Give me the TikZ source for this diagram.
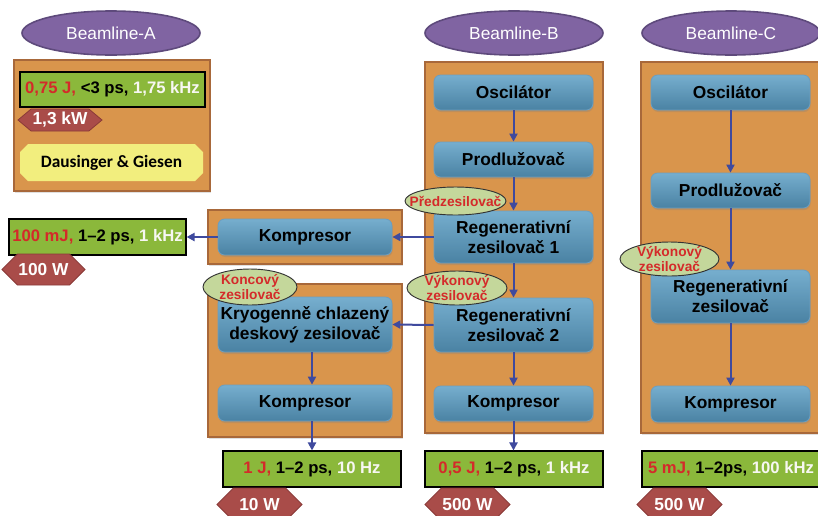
\documentclass[tikz,border=0pt]{standalone}
\usepackage{fontspec}
\setmainfont{Liberation Sans}
\newfontfamily\calibri{Carlito}
\usetikzlibrary{shapes.geometric,shapes.symbols,arrows.meta,shadows}
\definecolor{orfill}{HTML}{D9954C}
\definecolor{ordraw}{HTML}{A8683A}
\definecolor{bltop}{HTML}{76AECE}
\definecolor{blbot}{HTML}{4A82A3}
\definecolor{bldraw}{HTML}{6C9EC0}
\definecolor{grfill}{HTML}{8BB83B}
\definecolor{hexfill}{HTML}{A94C49}
\definecolor{hexdraw}{HTML}{8A3A38}
\definecolor{purfill}{HTML}{8064A2}
\definecolor{purdraw}{HTML}{5E4A7C}
\definecolor{lgfill}{HTML}{C4D79B}
\definecolor{redtxt}{HTML}{D42A2A}
\definecolor{whtxt}{HTML}{F7F7F2}
\definecolor{yelfill}{HTML}{F2EE7E}
\definecolor{arrcol}{HTML}{3F4A9E}
% #1 style, #2 name, #3 x1, #4 y1, #5 x2, #6 y2 (px), #7 text
\newcommand\mkbox[7]{%
  \pgfmathsetmacro\mkcx{(#3+#5)/2}%
  \pgfmathsetmacro\mkcy{(#4+#6)/2}%
  \pgfmathsetmacro\mkww{(#5-#3)*0.75}%
  \pgfmathsetmacro\mkhh{(#6-#4)*0.75}%
  \node[#1, minimum width=\mkww pt, minimum height=\mkhh pt] (#2) at (\mkcx,\mkcy) {#7};%
}
\begin{document}
\begin{tikzpicture}[x=0.75pt,y=-0.75pt,
  container/.style={draw=ordraw, fill=orfill, line width=1.5pt, inner sep=0pt,
    drop shadow={shadow xshift=1pt, shadow yshift=-1.5pt, opacity=0.25}},
  bluebox/.style={draw=bldraw, top color=bltop, bottom color=blbot, rounded corners=5pt, inner sep=0pt, font=\fontsize{13}{15}\selectfont\bfseries, align=center, line width=0.6pt,
    drop shadow={shadow xshift=0.5pt, shadow yshift=-1.5pt, opacity=0.3}},
  greenbox/.style={draw=black, fill=grfill, line width=0.8pt, inner sep=0pt, font=\fontsize{12.5}{15}\selectfont\bfseries},
  hexbox/.style={signal, signal to=west and east, signal pointer angle=90, draw=hexdraw, fill=hexfill, line width=0.6pt, inner sep=0pt, text=white, font=\fontsize{13}{15}\selectfont\bfseries},
  beamline/.style={ellipse, draw=purdraw, fill=purfill, line width=1.2pt, inner sep=0pt, text=white, font=\fontsize{13}{15}\selectfont},
  tag/.style={ellipse, draw=black!80, fill=lgfill, line width=0.7pt, inner sep=0pt},
  tagtext/.style={text=redtxt, align=center, inner sep=0pt, font=\fontsize{10.3}{11}\selectfont\bfseries},
  flow/.style={draw=arrcol, line width=1.5pt, -{Triangle[width=6pt,length=6pt]}}]
\clip (0,0) rectangle (818,515);
\fill[white] (0,0) rectangle (818,515);

% Beamline headers
\mkbox{beamline}{hA}{22}{11}{200}{55}{Beamline-A}
\mkbox{beamline}{hB}{425}{11}{603}{55}{Beamline-B}
\mkbox{beamline}{hC}{642}{11}{820}{55}{Beamline-C}

% Containers
\mkbox{container}{cA}{14}{60}{210}{191}{}
\mkbox{container}{cB}{425}{62}{603}{433}{}
\mkbox{container}{cC}{641}{62}{830}{433}{}
\mkbox{container}{cM}{208}{210}{402}{264}{}
\mkbox{container}{cL}{208}{284}{402}{437}{}

% Beamline A content
\mkbox{greenbox}{gA}{20}{72}{205}{107}{\textcolor{redtxt}{0,75 J,} <3 ps, \textcolor{whtxt}{1,75 kHz}}
\mkbox{hexbox, signal pointer angle=80}{pA}{18}{109}{102}{131}{1,3 kW}
\fill[yelfill] (28,144) -- (195,144) -- (203,152) -- (203,173) -- (195,181) -- (28,181) -- (20,173) -- (20,152) -- cycle;
\node[inner sep=0pt, font=\calibri\fontsize{13}{15}\selectfont\bfseries] (dg) at (111.5,162.5) {Dausinger \& Giesen};

% Beamline B column
\mkbox{bluebox}{oB}{434}{75}{593}{110}{Oscilátor}
\mkbox{bluebox}{pB}{434}{142}{593}{177}{Prodlužovač}
\mkbox{bluebox}{r1}{434}{211}{593}{263}{Regenerativní\\zesilovač 1}
\mkbox{bluebox}{r2}{434}{298}{593}{352}{Regenerativní\\zesilovač 2}
\mkbox{bluebox}{kB}{434}{386}{593}{421}{Kompresor}
\mkbox{greenbox}{gB}{425}{451}{603}{487}{\textcolor{redtxt}{0,5 J,} 1–2 ps, \textcolor{whtxt}{1 kHz}}
\mkbox{hexbox}{wB}{425}{488}{510}{521}{500 W}

% Middle (kompresor) branch
\mkbox{bluebox}{kM}{218}{219}{392}{255}{Kompresor}
\mkbox{greenbox}{gM}{9}{219}{186}{255}{\textcolor{redtxt}{100 mJ,} 1–2 ps, \textcolor{whtxt}{1 kHz}}
\mkbox{hexbox}{wM}{2}{254}{85}{285}{100 W}

% Lower branch
\mkbox{bluebox}{kr}{218}{297}{392}{352}{Kryogenně chlazený\\deskový zesilovač}
\mkbox{bluebox}{kL}{218}{385}{392}{421}{Kompresor}
\mkbox{greenbox}{gL}{223}{451}{401}{487}{\textcolor{redtxt}{1 J,} 1–2 ps, \textcolor{whtxt}{10 Hz}}
\mkbox{hexbox}{wL}{217}{488}{302}{521}{10 W}

% Beamline C column
\mkbox{bluebox}{oC}{651}{75}{810}{110}{Oscilátor}
\mkbox{bluebox}{pC}{651}{173}{810}{208}{Prodlužovač}
\mkbox{bluebox}{rC}{651}{270}{810}{323}{Regenerativní\\zesilovač}
\mkbox{bluebox}{kC}{651}{386}{810}{422}{Kompresor}
\mkbox{greenbox}{gC}{642}{451}{820}{487}{\textcolor{redtxt}{5 mJ,} 1–2ps, \textcolor{whtxt}{100 kHz}}
\mkbox{hexbox}{wC}{637}{488}{722}{521}{500 W}

% Flow arrows
\draw[flow] (oB) -- (pB);
\draw[flow] (pB) -- (r1);
\draw[flow] (r1) -- (r2);
\draw[flow] (r2) -- (kB);
\draw[flow] (kB) -- (kB |- gB.north);
\draw[flow] (r1.west) -- (kM.east);
\draw[flow] (kM.west) -- (gM.east);
\draw[flow] (r2.west) -- (kr.east);
\draw[flow] (kr.south -| gL.north) -- (kL.north -| gL.north);
\draw[flow] (kL.south -| gL.north) -- (gL.north);
\draw[flow] (oC) -- (pC);
\draw[flow] (pC) -- (rC);
\draw[flow] (rC) -- (kC);

% Tags
\mkbox{tag}{tP}{405}{187}{506}{215}{}
\node[tagtext] at (tP) {Předzesilovač};
\mkbox{tag}{tK}{203}{269}{297}{305}{}
\node[tagtext] at (tK) {Koncový\\zesilovač};
\mkbox{tag}{tV}{407}{271}{507}{305}{}
\node[tagtext] at (tV) {Výkonový\\zesilovač};
\mkbox{tag}{tC}{620}{242}{719}{276}{}
\node[tagtext] at (tC) {Výkonový\\zesilovač};
\end{tikzpicture}
\end{document}
